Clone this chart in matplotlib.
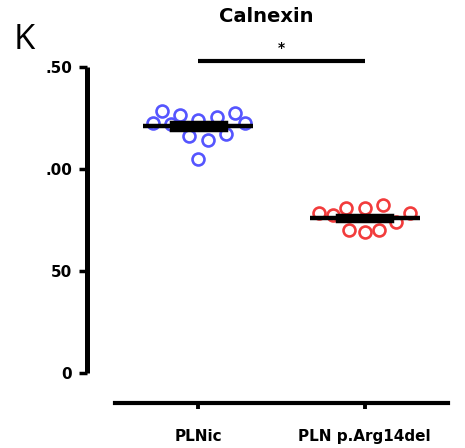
import numpy as np
import matplotlib
matplotlib.use("Agg")
import matplotlib.pyplot as plt

categories = ["PLNic", "PLN p.Arg14del"]
plnic_values = [1.224, 1.286, 1.219, 1.265, 1.163, 1.240, 1.048, 1.142, 1.256, 1.170, 1.276, 1.224]
plnic_jitter = [-0.274, -0.217, -0.163, -0.108, -0.054, 0.0, 0.0, 0.056, 0.112, 0.166, 0.222, 0.28]
arg_values = [0.783, 0.775, 0.807, 0.701, 0.807, 0.693, 0.701, 0.824, 0.739, 0.783]
arg_jitter = [-0.274, -0.19, -0.11, -0.094, 0.0, 0.0, 0.086, 0.11, 0.186, 0.274]
ytick_values = [0, 0.5, 1.0, 1.5]
ytick_labels = ["0", "50", ".00", ".50"]
title = "Calnexin"
panel = "K"
sig_label = "*"

W, H = 465, 448
fig = plt.figure(figsize=(W / 100, H / 100), dpi=100)
ax = fig.add_axes([115 / W, 75 / H, 333 / W, 306 / H])

colors = ["#5555FF", "#F23C3C"]
groups = [(plnic_values, plnic_jitter), (arg_values, arg_jitter)]
for i, (vals, jit) in enumerate(groups):
    xs = i + np.array(jit)
    ax.plot(xs, vals, "o", ms=8.6, mfc="none", mec=colors[i], mew=1.9,
            clip_on=False, zorder=2)
    v = np.array(vals)
    m = v.mean()
    sem = v.std(ddof=1) / np.sqrt(len(v))
    ax.plot([i - 0.33, i + 0.33], [m, m], color="black", lw=3.2,
            solid_capstyle="butt", zorder=3)
    ax.bar(i, 2 * sem, bottom=m - sem, width=0.33, color="black",
           edgecolor="black", linewidth=2.5, zorder=4)

ax.set_xlim(-0.5, 1.5)
ax.set_ylim(0, 1.5)

for s in ["top", "right"]:
    ax.spines[s].set_visible(False)
ax.spines["left"].set_position(("outward", 20))
ax.spines["bottom"].set_position(("outward", 21.6))
ax.spines["left"].set_linewidth(3.6)
ax.spines["bottom"].set_linewidth(3.0)
ax.spines["left"].set_capstyle("butt")

ax.set_yticks(ytick_values)
ax.set_yticklabels(ytick_labels, fontsize=11, fontweight="bold",
                   family="DejaVu Sans")
ax.tick_params(axis="y", length=6, width=2.5, pad=5)
ax.set_xticks([0, 1])
ax.set_xticklabels(categories, fontsize=11, fontweight="bold",
                   family="DejaVu Sans")
ax.tick_params(axis="x", length=4.5, width=2.8, pad=14)

# significance bar
ax.plot([0, 1], [1.529, 1.529], color="black", lw=3.0, clip_on=False,
        solid_capstyle="butt")
ax.text(0.5, 1.56, sig_label, ha="center", va="bottom", fontsize=10,
        fontweight="bold")

fig.text(266 / W, 1 - 16 / H, title, ha="center", va="center", fontsize=14,
         fontweight="bold", family="DejaVu Sans")
fig.text(14 / W, 1 - 40 / H, panel, ha="left", va="center", fontsize=25,
         family="Open Sans")

fig.savefig("out.png", dpi=100)
